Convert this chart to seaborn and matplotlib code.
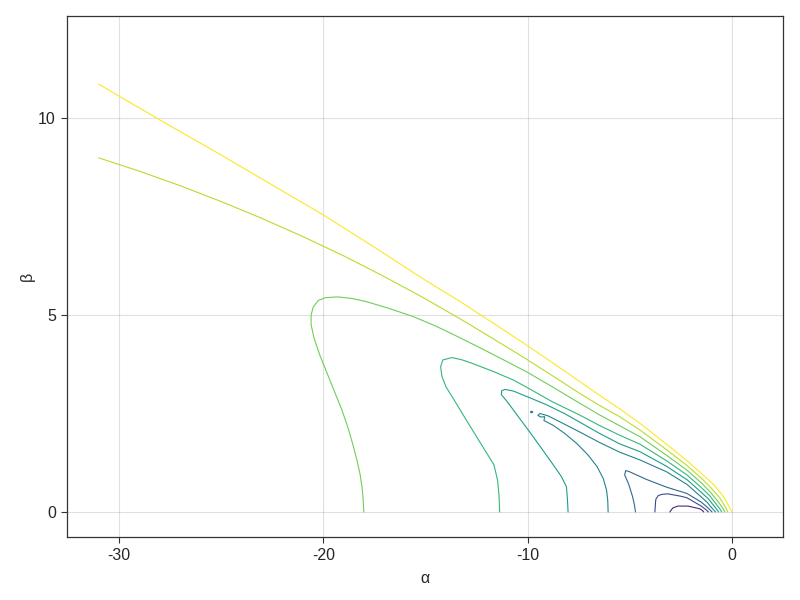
import pandas as pd
import matplotlib
matplotlib.use("Agg")
import matplotlib.pyplot as plt
import seaborn as sns

sns.set_style("white")
plt.rcParams["font.family"] = ["Liberation Sans", "DejaVu Sans"]
plt.rcParams["axes.unicode_minus"] = False

# contour lines, one (alpha, beta) list per level
# levels go from the innermost (dark) loop to the outer yellow line
dp_a = [-3.04, -2.9, -2.65, -2.15, -1.57, -1.45, -1.38]
dp_b = [0.0, 0.1, 0.15, 0.15, 0.08, 0.04, 0.0]

b_a = [-3.77, -3.74, -3.72, -3.6, -3.4, -3.14, -2.5, -2.2, -1.5, -1.3, -1.15]
b_b = [0.0, 0.25, 0.33, 0.42, 0.45, 0.46, 0.40, 0.36, 0.15, 0.07, 0.0]

bt_a = [-4.72, -4.78, -4.87, -5.05, -5.25, -5.2, -5.05, -4.2, -3.2, -2.2, -1.5, -1.25, -1.07, -0.97]
bt_b = [0.0, 0.2, 0.4, 0.7, 0.94, 1.05, 1.03, 0.83, 0.63, 0.47, 0.25, 0.14, 0.05, 0.0]

t_a = [-6.06, -6.08, -6.14, -6.3, -6.6, -7.05, -7.6, -8.2, -8.75, -9.2, -9.17, -9.35, -9.5,
       -9.4, -9.2, -9.0, -8.2, -7.45, -6.5, -5.5, -4.5, -3.2, -2.2, -1.5, -1.2, -1.0, -0.85, -0.8]
t_b = [0.0, 0.3, 0.56, 0.85, 1.15, 1.45, 1.74, 2.0, 2.2, 2.32, 2.42, 2.41, 2.45,
       2.5, 2.47, 2.44, 2.23, 2.03, 1.77, 1.52, 1.32, 1.02, 0.70, 0.38, 0.24, 0.11, 0.03, 0.0]

dot_a = [-9.85, -9.78, -9.75, -9.82, -9.85]
dot_b = [2.54, 2.56, 2.53, 2.52, 2.54]

tg_a = [-8.02, -8.05, -8.1, -8.35, -8.75, -9.3, -9.9, -10.5, -11.0, -11.29, -11.27, -11.1,
        -10.7, -9.9, -9.07, -8.2, -7.45, -6.5, -5.5, -4.5, -3.2, -2.2, -1.5, -1.15, -0.9, -0.72, -0.65]
tg_b = [0.0, 0.3, 0.64, 0.9, 1.2, 1.6, 2.03, 2.45, 2.8, 2.98, 3.08, 3.11,
        3.07, 2.9, 2.72, 2.5, 2.28, 2.0, 1.73, 1.53, 1.16, 0.82, 0.50, 0.33, 0.17, 0.05, 0.0]

g_a = [-11.37, -11.4, -11.47, -11.65, -12.0, -12.5, -13.0, -13.5, -14.0, -14.2, -14.26,
       -14.15, -13.7, -13.2, -12.7, -11.7, -10.7, -10.06, -8.8, -7.45, -6.5, -5.5, -4.5,
       -3.2, -2.2, -1.5, -1.1, -0.8, -0.58, -0.5]
g_b = [0.0, 0.4, 0.8, 1.2, 1.49, 1.91, 2.33, 2.76, 3.18, 3.45, 3.69,
       3.86, 3.92, 3.86, 3.77, 3.57, 3.35, 3.17, 2.8, 2.46, 2.2, 1.95, 1.72,
       1.30, 0.94, 0.62, 0.42, 0.22, 0.07, 0.0]

lg_a = [-18.02, -18.05, -18.1, -18.2, -18.35, -18.55, -18.8, -19.1, -19.45, -19.8, -20.15,
        -20.45, -20.6, -20.6, -20.5, -20.25, -19.9, -19.3, -18.6, -17.9, -16.8, -15.6, -14.5,
        -13.5, -12.3, -11.1, -10.06, -8.8, -7.45, -6.5, -5.5, -4.5, -3.2, -2.2, -1.5, -1.05,
        -0.7, -0.45, -0.35]
lg_b = [0.0, 0.3, 0.6, 0.95, 1.3, 1.7, 2.15, 2.6, 3.05, 3.5, 3.95,
        4.4, 4.75, 5.0, 5.2, 5.37, 5.44, 5.46, 5.42, 5.34, 5.17, 4.96, 4.72,
        4.47, 4.16, 3.84, 3.56, 3.18, 2.76, 2.47, 2.19, 1.91, 1.44, 1.06, 0.74, 0.5,
        0.28, 0.1, 0.0]

yg_a = [-31.0, -29.0, -27.0, -25.0, -23.0, -21.0, -19.0, -17.0, -15.0, -13.0, -11.0,
        -10.0, -8.7, -7.45, -6.5, -5.5, -4.5, -3.2, -2.2, -1.5, -1.0, -0.6, -0.32, -0.2]
yg_b = [8.99, 8.65, 8.28, 7.88, 7.45, 6.99, 6.50, 5.97, 5.41, 4.81, 4.18,
        3.86, 3.43, 3.01, 2.71, 2.42, 2.08, 1.58, 1.18, 0.86, 0.6, 0.36, 0.13, 0.0]

y_a = [-31.0, -28.0, -25.0, -22.5, -20.0, -17.5, -15.0, -13.33, -11.7, -10.06, -8.7, -7.45,
       -6.5, -5.5, -4.5, -3.2, -2.2, -1.5, -0.9, -0.45, -0.15, 0.0]
y_b = [10.86, 9.95, 9.06, 8.3, 7.54, 6.72, 5.88, 5.35, 4.8, 4.24, 3.76, 3.31,
       2.97, 2.62, 2.25, 1.72, 1.30, 0.98, 0.70, 0.42, 0.15, 0.0]

level_colors = ["#482878", "#3e4989", "#31688e", "#26828e", "#1f9e89",
                "#35b779", "#6ece58", "#b5de2b", "#fde725"]

lines = [(dp_a, dp_b, 0), (b_a, b_b, 1), (bt_a, bt_b, 2), (t_a, t_b, 3), (dot_a, dot_b, 3),
         (tg_a, tg_b, 4), (g_a, g_b, 5), (lg_a, lg_b, 6), (yg_a, yg_b, 7), (y_a, y_b, 8)]

fig = plt.figure(figsize=(8, 6), dpi=100)
ax = fig.add_axes([67 / 800, 63 / 600, 716 / 800, 521 / 600])

for xs, ys, lev in lines:
    d = pd.DataFrame({"alpha": xs, "beta": ys})
    sns.lineplot(data=d, x="alpha", y="beta", sort=False, estimator=None,
                 color=level_colors[lev], linewidth=0.8, ax=ax)

ax.set_xlim(-32.55, 2.5)
ax.set_ylim(-0.635, 12.59)
ax.set_xticks([-30, -20, -10, 0])
ax.set_yticks([0, 5, 10])
ax.grid(True, color="#000000", alpha=0.12, linewidth=0.8)
ax.set_axisbelow(True)
for s in ax.spines.values():
    s.set_color("#333333")
    s.set_linewidth(0.9)
ax.tick_params(direction="out", length=4, width=0.8, color="#333333",
               labelsize=11.5, pad=4, bottom=True, left=True)
ax.set_xlabel("α", fontsize=11.5, labelpad=6)
ax.set_ylabel("β", fontsize=11.5, labelpad=2)

fig.savefig("out.png", dpi=100)
